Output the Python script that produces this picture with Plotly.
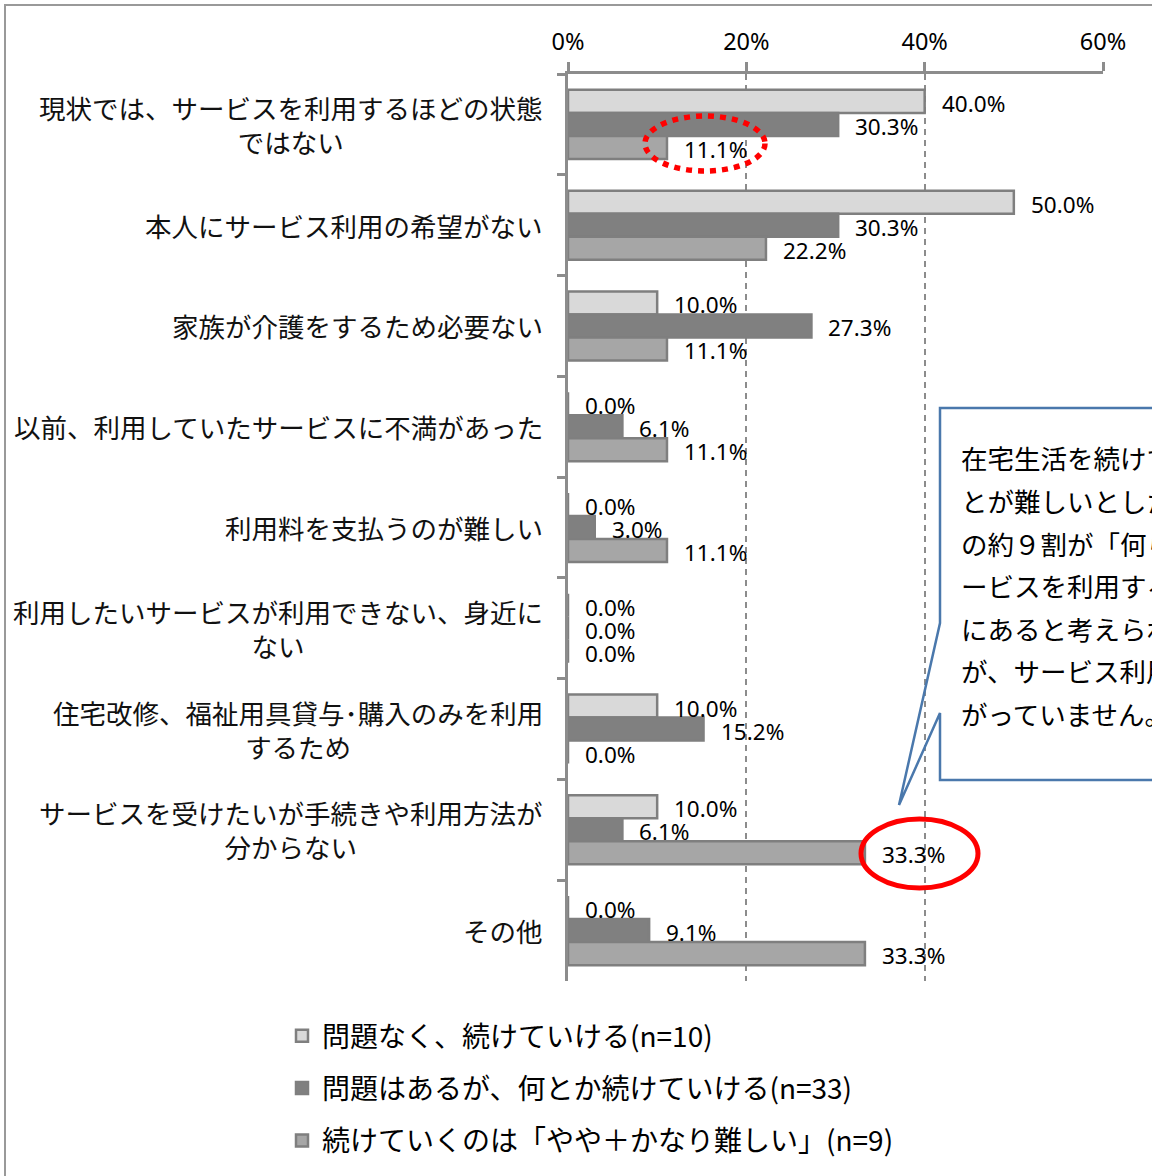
import plotly.graph_objects as go

categories = [
    "現状では、サービスを利用するほどの状態<br>ではない",
    "本人にサービス利用の希望がない",
    "家族が介護をするため必要ない",
    "以前、利用していたサービスに不満があった",
    "利用料を支払うのが難しい",
    "利用したいサービスが利用できない、身近に<br>ない",
    "住宅改修、福祉用具貸与･購入のみを利用<br>するため",
    "サービスを受けたいが手続きや利用方法が<br>分からない",
    "その他",
]
series_names = [
    "問題なく、続けていける(n=10)",
    "問題はあるが、何とか続けていける(n=33)",
    "続けていくのは「やや＋かなり難しい」(n=9)",
]
s_ok = [40.0, 50.0, 10.0, 0.0, 0.0, 0.0, 10.0, 10.0, 0.0]
s_mid = [30.3, 30.3, 27.3, 6.1, 3.0, 0.0, 15.2, 6.1, 9.1]
s_hard = [11.1, 22.2, 11.1, 11.1, 11.1, 0.0, 0.0, 33.3, 33.3]
x_ticks = [0, 20, 40, 60]
x_tick_labels = ["0%", "20%", "40%", "60%"]
callout_lines = [
    "在宅生活を続けていくこ",
    "とが難しいとした人",
    "の約９割が「何らかのサ",
    "ービスを利用する状態",
    "にあると考えられます",
    "が、サービス利用につな",
    "がっていません。",
]

fills = ["#d9d9d9", "#808080", "#a6a6a6"]
edge = "#7f7f7f"
JP = "Noto Sans CJK JP"
NUM = "Noto Sans"

W, H = 1152, 1176
L, R, T, B = 568, 49, 74, 195
PW, PH = W - L - R, H - T - B
BARGAP = 0.315


def px(xpix):
    return (xpix - L) / PW


def py(ypix):
    return (H - B - ypix) / PH


fig = go.Figure()
all_series = [s_ok, s_mid, s_hard]
for i, (name, vals) in enumerate(zip(series_names, all_series)):
    fig.add_trace(go.Bar(
        y=categories, x=vals, orientation="h", name=name,
        marker=dict(color=fills[i], line=dict(color=edge, width=2.5)),
        legendgroup=f"g{i}", hoverinfo="skip",
    ))

annotations = []
# category labels (centered multi-line, right aligned block)
for c in categories:
    annotations.append(dict(
        x=px(545), xref="paper", y=c, yref="y", text=c, showarrow=False,
        xanchor="right", align="center",
        font=dict(family=JP, size=26.5, color="#111"),
    ))
# value labels
bar_px = PH / len(categories) * (1 - BARGAP) / 3
for i, vals in enumerate(all_series):
    for c, v in zip(categories, vals):
        annotations.append(dict(
            x=v, xref="x", y=c, yref="y", text=f"{v:.1f}%", showarrow=False,
            xanchor="left", xshift=15, yshift=(1 - i) * bar_px - 2,
            font=dict(family=NUM, size=22.5, color="#000"),
        ))
# callout text
for k, line in enumerate(callout_lines):
    annotations.append(dict(
        x=px(959), xref="paper", y=py(458 + k * 42.5), yref="paper",
        text=line, showarrow=False, xanchor="left", yanchor="middle",
        font=dict(family=JP, size=26.5, color="#000"),
    ))

shapes = [
    # outer chart border
    dict(type="rect", xref="paper", yref="paper", x0=px(5), x1=1.5, y0=-0.5, y1=py(5),
         line=dict(color="#999999", width=2), fillcolor="rgba(0,0,0,0)", layer="below"),
    # callout box fill
    dict(type="rect", xref="paper", yref="paper", x0=px(940), x1=1.4, y0=py(780), y1=py(408),
         line=dict(width=0), fillcolor="white", layer="above"),
    # callout outline with pointer
    dict(type="path", xref="paper", yref="paper", layer="above",
         path=(f"M 1.4,{py(408)} L {px(940)},{py(408)} L {px(940)},{py(623)} "
               f"L {px(899)},{py(805)} L {px(940)},{py(713)} L {px(940)},{py(780)} L 1.4,{py(780)}"),
         line=dict(color="#4a78ac", width=2.5)),
    # dotted red ellipse
    dict(type="circle", xref="paper", yref="paper", x0=px(645), x1=px(765), y0=py(171), y1=py(116),
         line=dict(color="#ff0000", width=5.5, dash="6px,6px"), layer="above"),
    # solid red ellipse
    dict(type="circle", xref="paper", yref="paper", x0=px(861), x1=px(978), y0=py(888), y1=py(819),
         line=dict(color="#ff0000", width=5), layer="above"),
]

fig.update_layout(
    width=W, height=H,
    margin=dict(l=L, r=R, t=T, b=B, pad=0, autoexpand=False),
    paper_bgcolor="white", plot_bgcolor="white",
    barmode="group", bargap=BARGAP, bargroupgap=0,
    showlegend=True,
    legend=dict(
        x=px(282), xanchor="left", y=py(1011), yanchor="top",
        font=dict(family=JP, size=28, color="#000"),
        traceorder="grouped", tracegroupgap=13, bgcolor="rgba(0,0,0,0)",
    ),
    xaxis=dict(
        side="top", range=[0, 60], tickvals=x_ticks, ticktext=x_tick_labels,
        showgrid=True, gridcolor="#8c8c8c", gridwidth=2, griddash="6px,5px",
        zeroline=False, showline=True, linecolor="#8c8c8c", linewidth=3,
        ticks="outside", ticklen=9, tickwidth=3, tickcolor="#8c8c8c",
        ticklabelstandoff=3,
        tickfont=dict(family=NUM, size=23.5, color="#000"), fixedrange=True,
    ),
    yaxis=dict(
        type="category", categoryorder="array", categoryarray=categories,
        autorange="reversed", showticklabels=False, showgrid=False, zeroline=False,
        showline=True, linecolor="#8c8c8c", linewidth=3,
        ticks="outside", tickson="boundaries", ticklen=8, tickwidth=3, tickcolor="#8c8c8c",
        fixedrange=True,
    ),
    annotations=annotations,
    shapes=shapes,
)

fig.write_html(
    "out.html",
    config={"displayModeBar": False},
    post_script="document.body.style.margin='0';document.body.style.overflow='hidden';",
)
